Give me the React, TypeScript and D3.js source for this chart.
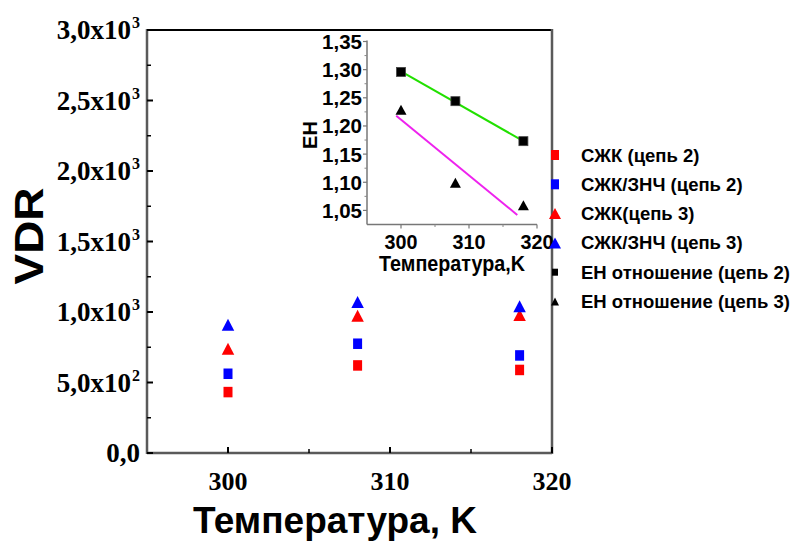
import React from 'react';
import * as d3 from 'd3';

// ---- data ----
const temps = [300, 308, 318];
const szhk2 = [432, 621, 589];        // СЖК (цепь 2) red squares
const szhkZnch2 = [562, 775, 692];    // СЖК/ЗНЧ (цепь 2) blue squares
const szhk3 = [740, 974, 979];        // СЖК(цепь 3) red triangles
const szhkZnch3 = [910, 1071, 1040];  // СЖК/ЗНЧ (цепь 3) blue triangles
const ehRatio2 = [1.296, 1.244, 1.173];
const ehRatio3 = [1.229, 1.099, 1.059];
const fit2X = [300, 318];
const fit2Y = [1.297, 1.173];
const fit3X = [299.3, 317.1];
const fit3Y = [1.218, 1.042];

const mainXTicks = [300, 310, 320];
const mainXMinor = [305, 315];
const mainYTicks = [0, 500, 1000, 1500, 2000, 2500, 3000];
const mainYMant = ['0,0', '5,0x10', '1,0x10', '1,5x10', '2,0x10', '2,5x10', '3,0x10'];
const mainYExp = ['', '2', '3', '3', '3', '3', '3'];
const mainYMinor = [250, 750, 1250, 1750, 2250, 2750];

const insetXTicks = [300, 310, 320];
const insetXMinor = [305, 315];
const insetYTicks = [1.05, 1.1, 1.15, 1.2, 1.25, 1.3, 1.35];
const insetYLabels = ['1,05', '1,10', '1,15', '1,20', '1,25', '1,30', '1,35'];
const insetYMinor = [1.075, 1.125, 1.175, 1.225, 1.275, 1.325];

const legendLabels = [
  'СЖК (цепь 2)',
  'СЖК/ЗНЧ (цепь 2)',
  'СЖК(цепь 3)',
  'СЖК/ЗНЧ (цепь 3)',
  'ЕН отношение (цепь 2)',
  'ЕН отношение (цепь 3)',
];

const SERIF = '"Liberation Serif", "Times New Roman", serif';
const SANS = '"Liberation Sans", Arial, sans-serif';

const tri = (w: number, h: number) => `M0,${-h / 2}L${w / 2},${h / 2}L${-w / 2},${h / 2}Z`;

export default function App() {
  // main plot
  const mL = 147, mR = 552, mT = 30, mB = 453;
  const x = d3.scaleLinear().domain([295, 320]).range([mL, mR]);
  const y = d3.scaleLinear().domain([0, 3000]).range([mB, mT]);
  // inset
  const iL = 367, iR = 537, iT = 41.5, iB = 224.5;
  const ix = d3.scaleLinear().domain([295, 320]).range([iL, iR]);
  const iy = d3.scaleLinear().domain([1.025, 1.35]).range([iB, iT]);
  const line = d3.line<[number, number]>().x((d) => ix(d[0])).y((d) => iy(d[1]));

  const axisGray = '#5a5a5a';
  const squares = (xs: number[], ys: number[], color: string, w: number, h: number, key: string, sx = x, sy = y) =>
    xs.map((t, i) => (
      <rect key={key + i} x={sx(t) - w / 2} y={sy(ys[i]) - h / 2} width={w} height={h} fill={color} />
    ));
  const triangles = (xs: number[], ys: number[], color: string, w: number, h: number, key: string, sx = x, sy = y) =>
    xs.map((t, i) => (
      <path key={key + i} d={tri(w, h)} transform={`translate(${sx(t)},${sy(ys[i])})`} fill={color} />
    ));

  const legendY0 = 155, legendStep = 29.3, legendMX = 555, legendTX = 581;

  return (
    <svg width={792} height={545} style={{ position: 'absolute', left: 0, top: 0, background: '#fff' }}>
      <rect width={792} height={545} fill="#fff" />
      {/* main frame */}
      <line x1={mL} x2={mR} y1={mT} y2={mT} stroke="#000" strokeWidth={2} />
      <line x1={mL} x2={mL} y1={mT - 1} y2={mB + 1} stroke={axisGray} strokeWidth={2.5} />
      <line x1={mR} x2={mR} y1={mT - 1} y2={mB + 1} stroke={axisGray} strokeWidth={2.5} />
      <line x1={mL} x2={mR} y1={mB} y2={mB} stroke={axisGray} strokeWidth={2.5} />
      {/* main ticks */}
      {mainYTicks.map((v) => (
        <line key={'myt' + v} x1={mL} x2={mL + 6} y1={y(v)} y2={y(v)} stroke="#000" strokeWidth={2} />
      ))}
      {mainYMinor.map((v) => (
        <line key={'mym' + v} x1={mL} x2={mL + 4} y1={y(v)} y2={y(v)} stroke="#000" strokeWidth={1.5} />
      ))}
      {mainXTicks.map((v) => (
        <line key={'mxt' + v} x1={x(v)} x2={x(v)} y1={mB} y2={mB - 6} stroke="#000" strokeWidth={2} />
      ))}
      {mainXMinor.map((v) => (
        <line key={'mxm' + v} x1={x(v)} x2={x(v)} y1={mB} y2={mB - 4} stroke="#000" strokeWidth={1.5} />
      ))}
      {/* main tick labels */}
      {mainYTicks.map((v, i) => (
        <text key={'myl' + v} x={mainYExp[i] ? 131 : 140} y={y(v) + 9} textAnchor="end"
          fontFamily={SERIF} fontWeight="bold" fontSize={27} fill="#000">
          {mainYMant[i]}
        </text>
      ))}
      {mainYTicks.map((v, i) =>
        mainYExp[i] ? (
          <text key={'mye' + v} x={132} y={y(v) - 2} textAnchor="start"
            fontFamily={SERIF} fontWeight="bold" fontSize={16} fill="#000">
            {mainYExp[i]}
          </text>
        ) : null
      )}
      {mainXTicks.map((v) => (
        <text key={'mxl' + v} x={x(v)} y={490} textAnchor="middle"
          fontFamily={SERIF} fontWeight="bold" fontSize={26} fill="#000">
          {v}
        </text>
      ))}
      <text x={335} y={533} textAnchor="middle" fontFamily={SANS} fontWeight="bold" fontSize={37}
        textLength={284} lengthAdjust="spacingAndGlyphs" fill="#000">
        Температура, K
      </text>
      <text transform="translate(43,236) rotate(-90)" textAnchor="middle" fontFamily={SANS}
        fontWeight="bold" fontSize={40} textLength={97} lengthAdjust="spacingAndGlyphs" fill="#000">
        VDR
      </text>

      {/* main points */}
      {squares(temps, szhk2, '#ff0000', 9, 10.5, 'a')}
      {squares(temps, szhkZnch2, '#0000ff', 9, 10.5, 'b')}
      {triangles(temps, szhk3, '#ff0000', 12.5, 12, 'c')}
      {triangles(temps, szhkZnch3, '#0000ff', 12.5, 12, 'd')}

      {/* inset axes */}
      <line x1={iL} x2={iL} y1={iT - 1} y2={iB} stroke="#777" strokeWidth={1.5} />
      <line x1={iL} x2={iR} y1={iB} y2={iB} stroke="#777" strokeWidth={1.5} />
      {insetYTicks.map((v) => (
        <line key={'iyt' + v} x1={iL - 4} x2={iL} y1={iy(v)} y2={iy(v)} stroke="#777" strokeWidth={1.2} />
      ))}
      {insetYMinor.map((v) => (
        <line key={'iym' + v} x1={iL - 2.5} x2={iL} y1={iy(v)} y2={iy(v)} stroke="#888" strokeWidth={1} />
      ))}
      {insetXTicks.map((v) => (
        <line key={'ixt' + v} x1={ix(v)} x2={ix(v)} y1={iB} y2={iB + 4} stroke="#777" strokeWidth={1.2} />
      ))}
      {insetXMinor.map((v) => (
        <line key={'ixm' + v} x1={ix(v)} x2={ix(v)} y1={iB} y2={iB + 2.5} stroke="#888" strokeWidth={1} />
      ))}
      {insetYTicks.map((v, i) => (
        <text key={'iyl' + v} x={362} y={iy(v) + 7.5} textAnchor="end" fontFamily={SANS}
          fontWeight="bold" fontSize={21} textLength={40} lengthAdjust="spacingAndGlyphs" fill="#000">
          {insetYLabels[i]}
        </text>
      ))}
      {insetXTicks.map((v) => (
        <text key={'ixl' + v} x={ix(v)} y={249} textAnchor="middle" fontFamily={SANS}
          fontWeight="bold" fontSize={21} textLength={33} lengthAdjust="spacingAndGlyphs" fill="#000">
          {v}
        </text>
      ))}
      <text x={452} y={271} textAnchor="middle" fontFamily={SANS} fontWeight="bold" fontSize={22}
        textLength={146} lengthAdjust="spacingAndGlyphs" fill="#000">
        Температура,K
      </text>
      <text transform="translate(317,135) rotate(-90)" textAnchor="middle" fontFamily={SANS}
        fontWeight="bold" fontSize={20} fill="#000">
        ЕН
      </text>
      {/* fit lines */}
      <path d={line(fit2X.map((t, i) => [t, fit2Y[i]] as [number, number])) || ''} fill="none" stroke="#22e000" strokeWidth={2} />
      <path d={line(fit3X.map((t, i) => [t, fit3Y[i]] as [number, number])) || ''} fill="none" stroke="#ee22ee" strokeWidth={2} />
      {/* inset points */}
      {temps.map((t, i) => (
        <rect key={'is' + i} x={ix(t) - 4.5} y={iy(ehRatio2[i]) - 4.5} width={9} height={9}
          fill="#000" stroke="#444" strokeWidth={0.8} />
      ))}
      {triangles(temps, ehRatio3, '#000', 11, 10, 'it', ix, iy)}

      {/* legend */}
      {legendLabels.map((lab, i) => (
        <text key={'lg' + i} x={legendTX} y={legendY0 + i * legendStep + 6.5} fontFamily={SANS}
          fontWeight="bold" fontSize={18.5} fill="#000">
          {lab}
        </text>
      ))}
      <rect x={legendMX - 4} y={legendY0 - 5} width={8} height={10} fill="#ff0000" />
      <rect x={legendMX - 4} y={legendY0 + legendStep - 5} width={8} height={10} fill="#0000ff" />
      <path d={tri(12, 11)} transform={`translate(${legendMX},${legendY0 + 2 * legendStep})`} fill="#ff0000" />
      <path d={tri(12, 11)} transform={`translate(${legendMX},${legendY0 + 3 * legendStep})`} fill="#0000ff" />
      <rect x={legendMX - 3} y={legendY0 + 4 * legendStep - 3.5} width={6} height={7} fill="#000" />
      <path d={tri(8, 8)} transform={`translate(${legendMX},${legendY0 + 5 * legendStep})`} fill="#000" />
    </svg>
  );
}
